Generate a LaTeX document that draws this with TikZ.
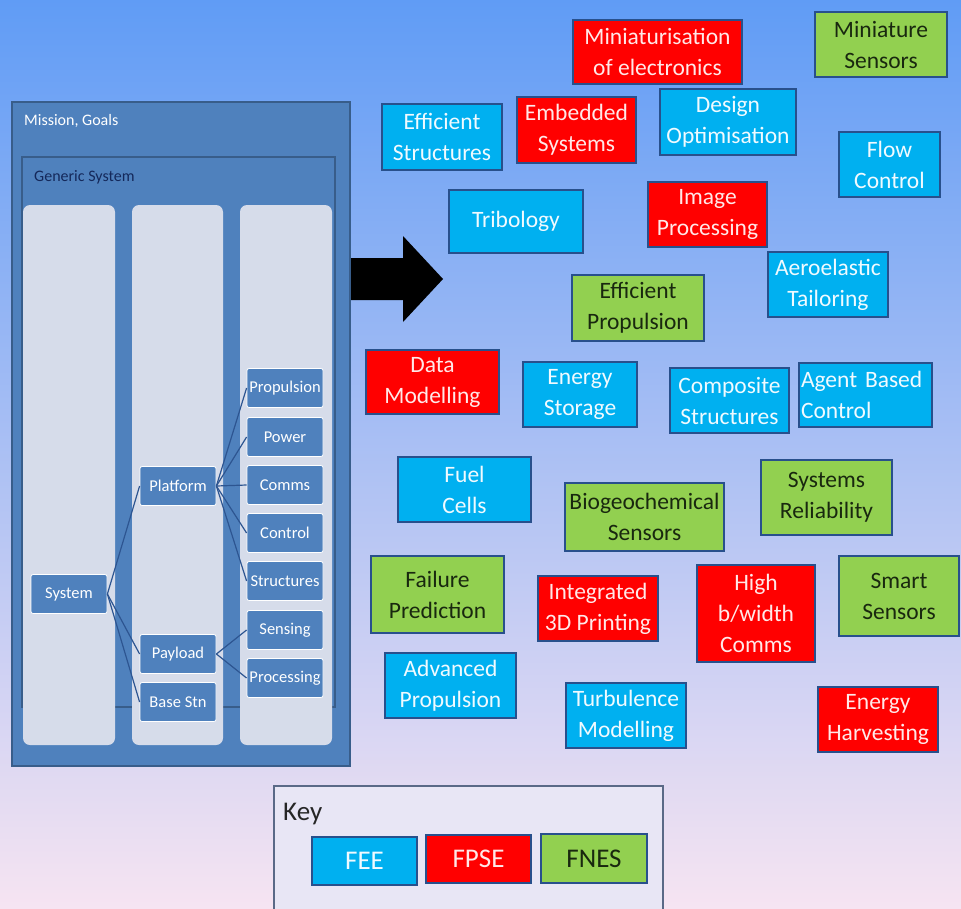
\documentclass[tikz,border=0pt]{standalone}
\usepackage{fontspec}
\setmainfont{Carlito}
\definecolor{bgtop}{RGB}{96,156,245}
\definecolor{bgmid}{RGB}{170,200,245}
\definecolor{bgbot}{RGB}{246,228,242}
\definecolor{panel}{RGB}{79,129,189}
\definecolor{panelline}{RGB}{56,93,138}
\definecolor{colfill}{RGB}{214,220,234}
\definecolor{feeblue}{RGB}{0,176,240}
\definecolor{fpsered}{RGB}{255,0,0}
\definecolor{fnesgreen}{RGB}{146,208,80}
\definecolor{boxline}{RGB}{40,80,140}
\definecolor{greentext}{RGB}{25,40,15}
\definecolor{redtext}{RGB}{255,232,232}
\definecolor{bluetext}{RGB}{240,250,255}
\definecolor{keyfill}{RGB}{232,230,245}
\definecolor{keyline}{RGB}{90,105,135}
\definecolor{navy}{RGB}{20,40,90}
\definecolor{conn}{RGB}{45,85,145}
\tikzset{
  topic/.style={draw=boxline, line width=1.8pt, align=center, inner sep=1pt,
    font=\fontsize{23.5}{31}\selectfont},
  feebox/.style={topic, fill=feeblue, text=bluetext},
  fpsebox/.style={topic, fill=fpsered, text=redtext},
  fnesbox/.style={topic, fill=fnesgreen, text=greentext},
  sz/.style 2 args={minimum width=#1pt, minimum height=#2pt},
  hnode/.style={draw=white, line width=0.8pt, fill=panel, rounded corners=2pt,
    text=white, minimum width=76pt, minimum height=39pt, inner sep=0pt,
    font=\fontsize{16.5}{19}\selectfont},
  colbox/.style={fill=colfill, rounded corners=7pt},
  link/.style={draw=conn, line width=1.2pt},
  keyitem/.style={draw=boxline, line width=1.8pt, inner sep=0pt,
    font=\fontsize{27}{30}\selectfont},
}
\begin{document}
\begin{tikzpicture}[x=1pt,y=-1pt]
\useasboundingbox (0,0) rectangle (961,908);
\clip (0,0) rectangle (961,908);
% background
\shade[top color=bgtop, middle color=bgmid, bottom color=bgbot] (0,0) rectangle (961,908);

% left panel
\draw[fill=panel, draw=panelline, line width=2pt] (12,102) rectangle (350,766);
\node[anchor=west, text=white, font=\fontsize{16}{18}\selectfont, inner sep=0pt] (mission) at (24,121) {Mission, Goals};
\draw[fill=panel, draw=panelline, line width=1.5pt] (22,157) rectangle (335,707);
\node[anchor=west, text=navy, font=\fontsize{16}{18}\selectfont, inner sep=0pt] (generic) at (34,177) {Generic System};
\fill[colbox] (23,205) rectangle (115,745);
\fill[colbox] (132,205) rectangle (223,745);
\fill[colbox] (240,205) rectangle (332,745);

\node[hnode] (system) at (69,594) {System};
\node[hnode] (platform) at (178,486) {Platform};
\node[hnode] (payload) at (178,654) {Payload};
\node[hnode] (basestn) at (178,702) {Base Stn};
\node[hnode] (prop) at (285,388) {Propulsion};
\node[hnode] (power) at (285,437) {Power};
\node[hnode] (comms) at (285,485) {Comms};
\node[hnode] (control) at (285,533) {Control};
\node[hnode] (struct) at (285,581) {Structures};
\node[hnode] (sensing) at (285,630) {Sensing};
\node[hnode] (processing) at (285,678) {Processing};

\draw[link] (system.east) -- (platform.west);
\draw[link] (system.east) -- (payload.west);
\draw[link] (system.east) -- (basestn.west);
\foreach \c in {prop,power,comms,control,struct}
  \draw[link] (platform.east) -- (\c.west);
\foreach \c in {sensing,processing}
  \draw[link] (payload.east) -- (\c.west);

% big arrow
\fill[black] (351,258) -- (403,258) -- (403,236) -- (443,279) -- (403,322) -- (403,300) -- (351,300) -- cycle;

% topic boxes
\node[fpsebox, sz={169}{64}] (mini) at (657.5,52) {Miniaturisation\\of electronics};
\node[fnesbox, sz={132}{65}] (minisens) at (881,44.5) {Miniature\\Sensors};
\node[feebox, sz={120}{66}] (effstruct) at (442,137) {Efficient\\Structures};
\node[fpsebox, sz={119}{66}] (embedded) at (576.5,130) {Embedded\\Systems};
\node[feebox, sz={136}{66}] (design) at (728,122) {Design\\Optimisation};
\node[feebox, sz={101}{65}] (flow) at (889.5,164.5) {Flow\\Control};
\node[feebox, sz={134}{63}] (tribology) at (516,221.5) {Tribology};
\node[fpsebox, sz={119}{65}] (image) at (707.5,214.5) {Image\\Processing};
\node[feebox, sz={120}{65}] (aero) at (828,284.5) {Aeroelastic\\Tailoring};
\node[fnesbox, sz={132}{66}] (effprop) at (638,308) {Efficient\\Propulsion};
\node[fpsebox, sz={133}{64}] (data) at (432.5,382) {Data\\Modelling};
\node[feebox, sz={114}{65}] (energy) at (580,394.5) {Energy\\Storage};
\node[feebox, sz={119}{65}] (composite) at (729.5,400.5) {Composite\\Structures};
\node[feebox, sz={133}{64}, align=left, text width=129pt] (agent) at (865.5,395) {Agent Based\\Control};
\node[feebox, sz={133}{65}] (fuel) at (464.5,489.5) {Fuel\\Cells};
\node[fnesbox, sz={159}{68}] (bio) at (644.5,517) {Biogeochemical\\Sensors};
\node[fnesbox, sz={131}{75}] (reliab) at (826.5,497.5) {Systems\\Reliability};
\node[fnesbox, sz={133}{77}] (failure) at (437.5,594.5) {Failure\\Prediction};
\node[fpsebox, sz={120}{65}] (print) at (598,608.5) {Integrated\\3D Printing};
\node[fpsebox, sz={118}{97}] (highbw) at (756,613.5) {High\\b/width\\Comms};
\node[fnesbox, sz={120}{80}] (smart) at (899,596) {Smart\\Sensors};
\node[feebox, sz={131}{65}] (advprop) at (450.5,685.5) {Advanced\\Propulsion};
\node[feebox, sz={120}{65}] (turb) at (626,715.5) {Turbulence\\Modelling};
\node[fpsebox, sz={120}{65}] (harvest) at (878,719.5) {Energy\\Harvesting};

% key
\draw[fill=keyfill, draw=keyline, line width=2pt] (274,786) rectangle (663,920);
\node[anchor=west, inner sep=0pt, text=black!85, font=\fontsize{27}{30}\selectfont] (keytitle) at (283,814) {Key};
\node[keyitem, fill=feeblue, text=bluetext, minimum width=105pt, minimum height=48pt] (kfee) at (364.5,861) {FEE};
\node[keyitem, fill=fpsered, text=redtext, minimum width=105pt, minimum height=48pt] (kfpse) at (478.5,859) {FPSE};
\node[keyitem, fill=fnesgreen, text=greentext, minimum width=106pt, minimum height=49pt] (kfnes) at (594,858.5) {FNES};
\end{tikzpicture}
\end{document}
